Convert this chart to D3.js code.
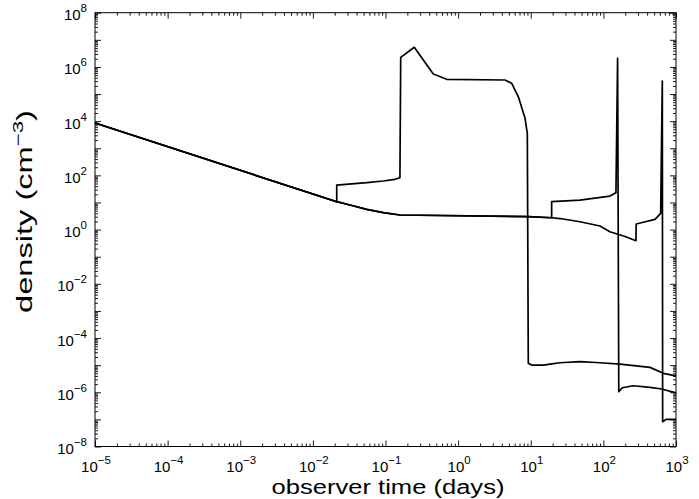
<!DOCTYPE html>
<html>
<head>
<meta charset="utf-8">
<script src="https://cdn.jsdelivr.net/npm/d3@7"></script>
<style>
  body { margin: 0; background: #fff; }
  svg { display: block; font-family: Arial, "Liberation Sans", sans-serif; }
</style>
</head>
<body>
<svg id="chart" width="699" height="499"></svg>
<script>
// early power-law decline shared by all three runs
const earlyTime = [1e-5, 0.0213];
const earlyDensity = [8.5e3, 10.7];

// low branch shared by the two runs that stay low
const lowTime = [0.0324, 0.0551, 0.0933, 0.158, 9.25, 19.4];
const lowDensity = [8.07, 5.6, 4.2, 3.45, 2.99, 2.74];

// run that shocks early at ~0.02 days
const shockTime = [0.0213, 0.0551, 0.0933, 0.135, 0.158, 0.162, 0.249, 0.455, 0.697, 4.42, 5.47, 6.75, 8.34, 8.97,
  9.25, 10.3, 14.9, 18.4, 25.3, 47.6, 89.8, 169, 439, 668, 1000];
const shockDensity = [44, 53.6, 62, 71.6, 82, 2.26e6, 5.3e6, 5.5e5, 3.5e5, 3.3e5, 2.49e5, 7.9e4, 1.27e4, 3.56e3,
  1.17e-5, 1.01e-5, 1.01e-5, 1.1e-5, 1.23e-5, 1.35e-5, 1.23e-5, 1.1e-5, 8.3e-6, 5.0e-6, 4.0e-6];

// run that jumps at ~19 days and spikes at ~160 days
const midTime = [19.4, 47.6, 123, 149, 157, 163, 182, 258, 439, 635, 1000];
const midDensity = [10.7, 12.3, 17.3, 22.9, 2.08e6, 1.05e-6, 1.47e-6, 1.74e-6, 1.52e-6, 1.32e-6, 9.5e-7];

// run that stays low longest and spikes at ~650 days
const lateTime = [25.3, 47.6, 89.8, 123, 199, 281, 283, 355, 514, 615, 648, 655, 728, 1000];
const lateDensity = [2.56, 1.95, 1.36, 0.836, 0.556, 0.389, 1.61, 1.86, 2.39, 3.98, 3.0e5, 8.2e-8, 1.0e-7, 1.0e-7];

const xLabelExps = [-5, -4, -3, -2, -1, 0, 1, 2, 3];
const yLabelExps = [-8, -6, -4, -2, 0, 2, 4, 6, 8];

function zipPts(ts, ds) {
  return ts.map((t, i) => [t, ds[i]]);
}

function buildSeries() {
  const early = zipPts(earlyTime, earlyDensity);
  const low = zipPts(lowTime, lowDensity);
  return [
    early.concat(zipPts(shockTime, shockDensity)),
    early.concat(low, zipPts(midTime, midDensity)),
    early.concat(low, zipPts(lateTime, lateDensity))
  ];
}

function expText(e) {
  return e < 0 ? '\u2212' + Math.abs(e) : String(e);
}

function render() {
  const left = 95, right = 676, top = 12.7, bottom = 446.5;
  const svg = d3.select('#chart');

  const x = d3.scaleLog().domain([1e-5, 1e3]).range([left, right]);
  const y = d3.scaleLog().domain([1e-8, 1e8]).range([bottom, top]);

  // tick positions
  const xMajor = d3.range(-5, 4).map(e => Math.pow(10, e));
  const xMinor = [];
  d3.range(-5, 3).forEach(e => d3.range(2, 10).forEach(k => xMinor.push(k * Math.pow(10, e))));
  const yMajor = d3.range(-8, 9).map(e => Math.pow(10, e));
  const yMinor = [];
  d3.range(-8, 8).forEach(e => d3.range(2, 10).forEach(k => yMinor.push(k * Math.pow(10, e))));

  function ticks(axisFn, scale, vals, size, transform) {
    svg.append('g')
      .attr('transform', transform)
      .call(axisFn(scale).tickValues(vals).tickFormat(() => '').tickSizeInner(-size).tickSizeOuter(0))
      .call(g => g.select('.domain').remove())
      .call(g => g.selectAll('line').attr('stroke', '#000').attr('stroke-width', 0.9));
  }

  ticks(d3.axisBottom, x, xMajor, 6, `translate(0,${bottom})`);
  ticks(d3.axisBottom, x, xMinor, 3, `translate(0,${bottom})`);
  ticks(d3.axisTop, x, xMajor, 6, `translate(0,${top})`);
  ticks(d3.axisTop, x, xMinor, 3, `translate(0,${top})`);
  ticks(d3.axisLeft, y, yMajor, 6, `translate(${left},0)`);
  ticks(d3.axisLeft, y, yMinor, 3, `translate(${left},0)`);
  ticks(d3.axisRight, y, yMajor, 6, `translate(${right},0)`);
  ticks(d3.axisRight, y, yMinor, 3, `translate(${right},0)`);

  svg.append('rect')
    .attr('x', left).attr('y', top)
    .attr('width', right - left).attr('height', bottom - top)
    .attr('fill', 'none').attr('stroke', '#000').attr('stroke-width', 1);

  // tick labels 10^n
  xLabelExps.forEach(e => {
    const t = svg.append('text')
      .attr('x', x(Math.pow(10, e)) + 1)
      .attr('y', bottom + 25.5)
      .attr('text-anchor', 'middle')
      .attr('font-size', 15)
      .attr('fill', '#000');
    t.append('tspan').text('10');
    t.append('tspan').attr('dy', -8).attr('font-size', 11.5).text(expText(e));
  });

  yLabelExps.forEach(e => {
    const t = svg.append('text')
      .attr('x', left - 8)
      .attr('y', y(Math.pow(10, e)) + 7.5)
      .attr('text-anchor', 'end')
      .attr('font-size', 15)
      .attr('fill', '#000');
    t.append('tspan').text('10');
    t.append('tspan').attr('dy', -8).attr('font-size', 11.5).text(expText(e));
  });

  // curves
  const line = d3.line().x(d => x(d[0])).y(d => y(d[1]));
  svg.append('g')
    .selectAll('path')
    .data(buildSeries())
    .join('path')
      .attr('d', line)
      .attr('fill', 'none')
      .attr('stroke', '#000')
      .attr('stroke-width', 1.7)
      .attr('stroke-linejoin', 'round');

  // axis titles, stretched to the reference's lengths
  const xt = svg.append('text')
    .attr('text-anchor', 'middle')
    .attr('font-size', 21)
    .attr('fill', '#000')
    .text('observer time (days)');
  const kx = 233 / xt.node().getComputedTextLength();
  xt.attr('transform', `translate(388,494) scale(${kx},1)`);

  const yt = svg.append('text')
    .attr('text-anchor', 'middle')
    .attr('font-size', 22)
    .attr('fill', '#000');
  yt.append('tspan').text('density (cm');
  yt.append('tspan').attr('dy', -9).attr('font-size', 15).text('\u22123');
  yt.append('tspan').attr('dy', 9).text(')');
  const ky = 203 / yt.node().getBBox().width;
  yt.attr('transform', `translate(32,211.5) rotate(-90) scale(${ky},1)`);
}

render();
</script>
</body>
</html>
